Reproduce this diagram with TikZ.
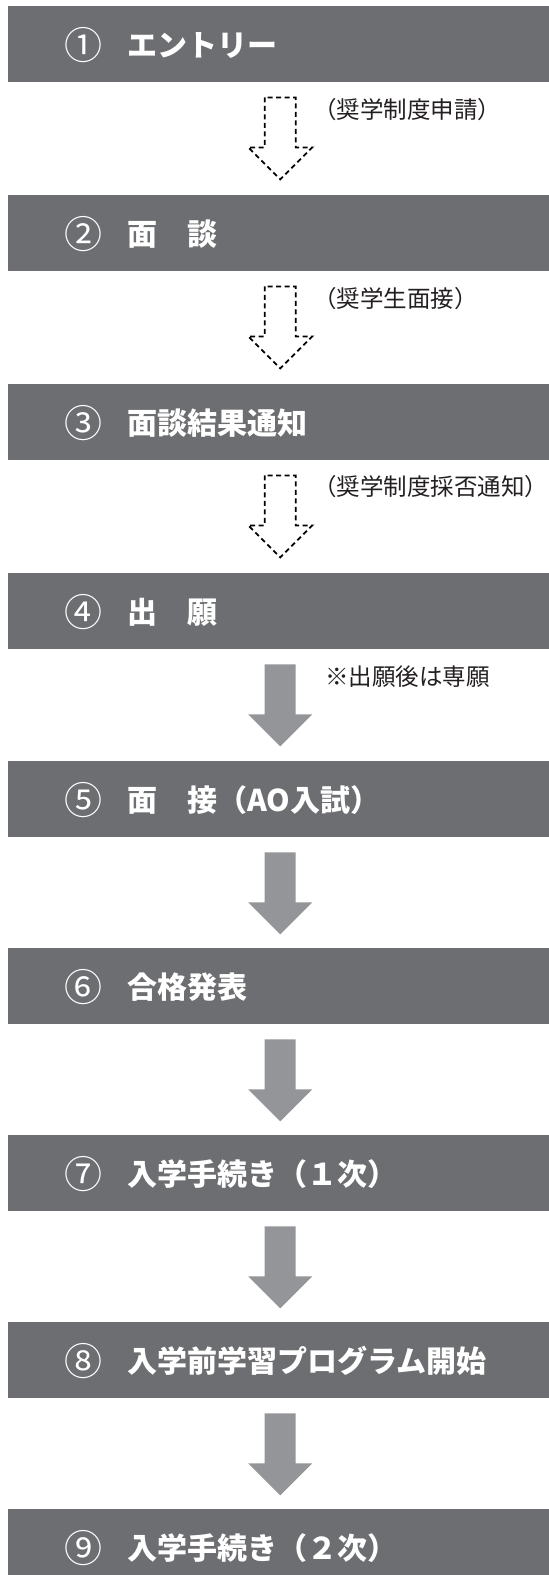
\documentclass[tikz,border=0pt]{standalone}
\usepackage{fontspec}
\newfontfamily\jp{Noto Sans CJK JP}
\definecolor{boxgray}{HTML}{6D6E71}
\definecolor{arrowgray}{HTML}{939598}
\definecolor{labelink}{HTML}{231F20}
\newcommand\dasharrow[1]{%
  \draw[dasharr, shift={([xshift=1.5pt]#1.south)}] (-15.5,-15) -- (-15.5,-65) -- (-32,-65) -- (0,-97) -- (32,-65) -- (15.5,-65) -- (15.5,-15) -- cycle;}
\newcommand\solidarrow[1]{%
  \fill[arrowgray, shift={([xshift=1.5pt]#1.south)}] (-15.5,-15) -- (-15.5,-65) -- (-32,-65) -- (0,-97) -- (32,-65) -- (15.5,-65) -- (15.5,-15) -- cycle;}
\newcommand\stage[4]{% name, top, number, title
  \node[stepbox] (b#1) at (8,-#2) {};
  \node[numtxt] (n#1) at ([xshift=75pt,yshift=-1pt]b#1.west) {#3};
  \node[titletxt] (t#1) at ([xshift=119pt,yshift=-1pt]b#1.west) {#4};}
\begin{document}
\begin{tikzpicture}[x=1pt,y=1pt,
  stepbox/.style={fill=boxgray, minimum width=541pt, minimum height=76pt, inner sep=0pt, anchor=north west},
  numtxt/.style={text=white, inner sep=0pt, font=\jp\fontsize{38}{42}\selectfont},
  titletxt/.style={text=white, inner sep=0pt, anchor=west, font=\jp\bfseries\fontsize{30}{36}\selectfont},
  lbl/.style={text=labelink, inner sep=0pt, anchor=west, font=\jp\fontsize{23.5}{28}\selectfont},
  dasharr/.style={draw=black, line width=1.8pt, dash pattern=on 5pt off 3.5pt, line join=miter}]
\useasboundingbox (0,0) rectangle (549,-1575);
\stage{1}{6}{①}{エントリー}
\stage{2}{195}{②}{面　談}
\stage{3}{384}{③}{面談結果通知}
\stage{4}{573}{④}{出　願}
\stage{5}{761}{⑤}{面　接（AO入試）}
\stage{6}{948}{⑥}{合格発表}
\stage{7}{1135}{⑦}{入学手続き（１次）}
\stage{8}{1322}{⑧}{入学前学習プログラム開始}
\stage{9}{1509}{⑨}{入学手続き（２次）}
\dasharrow{b1}
\dasharrow{b2}
\dasharrow{b3}
\solidarrow{b4}
\solidarrow{b5}
\solidarrow{b6}
\solidarrow{b7}
\solidarrow{b8}
\node[lbl] (l1) at (313,-110) {（奨学制度申請）};
\node[lbl] (l2) at (313,-299) {（奨学生面接）};
\node[lbl] (l3) at (313,-487) {（奨学制度採否通知）};
\node[lbl] (l4) at (325,-677) {※出願後は専願};
\end{tikzpicture}
\end{document}
